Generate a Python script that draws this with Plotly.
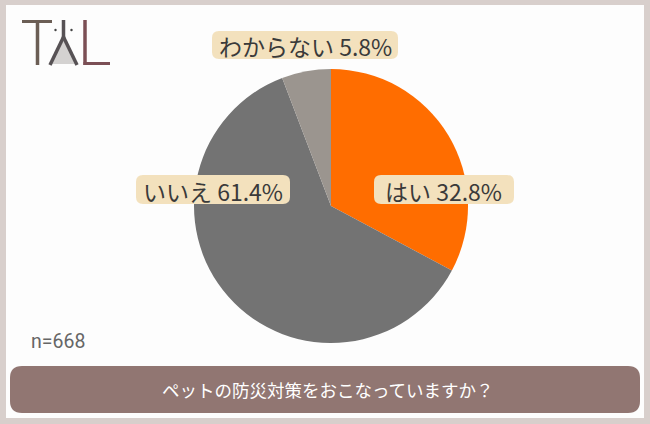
import plotly.graph_objects as go

# ---- data ----
labels = ["はい", "いいえ", "わからない"]
values = [32.8, 61.4, 5.8]
colors = ["#ff6d00", "#737373", "#9b958f"]
title_text = "ペットの防災対策をおこなっていますか？"
n_text = "n=668"

W, H = 650, 424

def px(x):
    return x / W

def py(y):
    return 1 - y / H

def rounded_rect(x0, y0, x1, y1, r):
    rx, ry = r / W, r / H
    X0, X1 = px(x0), px(x1)
    Y0, Y1 = py(y0), py(y1)
    return (f"M {X0+rx},{Y0} L {X1-rx},{Y0} Q {X1},{Y0} {X1},{Y0-ry} "
            f"L {X1},{Y1+ry} Q {X1},{Y1} {X1-rx},{Y1} "
            f"L {X0+rx},{Y1} Q {X0},{Y1} {X0},{Y1+ry} "
            f"L {X0},{Y0-ry} Q {X0},{Y0} {X0+rx},{Y0} Z")

fig = go.Figure()

cx, cy, R = 331, 206, 137
fig.add_trace(go.Pie(
    labels=labels, values=values, sort=False, direction="clockwise", rotation=0,
    marker=dict(colors=colors, line=dict(width=0)),
    textinfo="none", hoverinfo="none", showlegend=False,
    domain=dict(x=[px(cx - R), px(cx + R)], y=[py(cy + R), py(cy - R)]),
))

shapes = []
shapes.append(dict(type="rect", xref="paper", yref="paper",
                   x0=px(6), x1=px(644), y0=py(418), y1=py(5),
                   fillcolor="#fdfdfd", line=dict(width=0), layer="below"))

label_boxes = {
    "わからない": (212, 31, 398, 59),
    "いいえ": (136, 175, 290, 204),
    "はい": (374, 175, 514, 204),
}
annotations = []
for lab, val in zip(labels, values):
    x0, y0, x1, y1 = label_boxes[lab]
    shapes.append(dict(type="path", xref="paper", yref="paper",
                       path=rounded_rect(x0, y0, x1, y1, 7),
                       fillcolor="#f3e1bd", line=dict(width=0), layer="above"))
    annotations.append(dict(x=px((x0 + x1) / 2), y=py((y0 + y1) / 2 + 1),
                            xref="paper", yref="paper", showarrow=False,
                            text=f"{lab} {val}%",
                            font=dict(family="Noto Sans CJK JP", size=23, color="#3a3a3a"),
                            xanchor="center", yanchor="middle"))

shapes.append(dict(type="path", xref="paper", yref="paper",
                   path=rounded_rect(10, 366, 640, 413, 12),
                   fillcolor="#917672", line=dict(width=0), layer="above"))
annotations.append(dict(x=px(328), y=py(389), xref="paper", yref="paper",
                        showarrow=False, text=title_text,
                        font=dict(family="Noto Sans CJK JP", size=17.5, color="#ffffff"),
                        xanchor="center", yanchor="middle"))

annotations.append(dict(x=px(29), y=py(341), xref="paper", yref="paper",
                        showarrow=False, text=n_text,
                        font=dict(family="Roboto", size=19.5, color="#666666"),
                        xanchor="left", yanchor="middle"))

def pline(x0, y0, x1, y1, color, w):
    return dict(type="line", xref="paper", yref="paper",
                x0=px(x0), y0=py(y0), x1=px(x1), y1=py(y1),
                line=dict(color=color, width=w), layer="above")

shapes.append(dict(type="path", xref="paper", yref="paper",
                   path=f"M {px(63.5)},{py(38)} L {px(51)},{py(64)} L {px(76)},{py(64)} Z",
                   fillcolor="#d4d2d1", line=dict(width=0), layer="above"))
shapes.append(pline(22, 21.5, 52, 21.5, "#6b5e55", 3))
shapes.append(pline(37.5, 21, 37.5, 65, "#6b5e55", 3.5))
shapes.append(pline(63.5, 20, 63.5, 38, "#575255", 3.5))
shapes.append(pline(63.5, 37, 50, 65, "#575255", 3.5))
shapes.append(pline(63.5, 37, 77, 65, "#575255", 3.5))
shapes.append(pline(85, 20, 85, 65, "#7b4f55", 3.5))
shapes.append(pline(83.5, 63.5, 110, 63.5, "#7b4f55", 3))
for dx in (55.5, 71.5):
    shapes.append(dict(type="circle", xref="paper", yref="paper",
                       x0=px(dx - 1.2), x1=px(dx + 1.2), y0=py(30 + 1.2), y1=py(30 - 1.2),
                       fillcolor="#444444", line=dict(width=0), layer="above"))

fig.update_layout(
    width=W, height=H, margin=dict(l=0, r=0, t=0, b=0),
    paper_bgcolor="#d8cfcc", plot_bgcolor="#d8cfcc",
    shapes=shapes, annotations=annotations,
)

fig.write_html("out.html", config={"displayModeBar": False},
               post_script="document.body.style.margin='0';document.body.style.overflow='hidden';")
